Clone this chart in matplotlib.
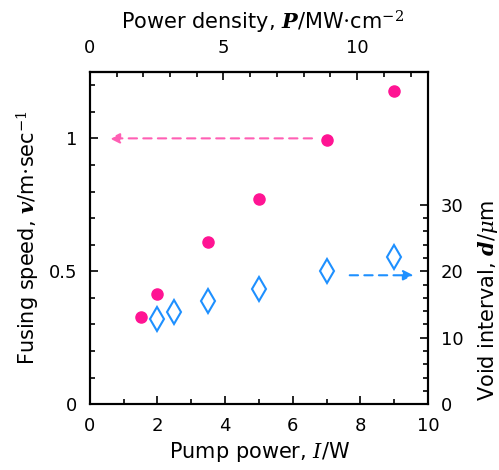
import numpy as np
import matplotlib.pyplot as plt
from matplotlib.ticker import MultipleLocator, FixedLocator

plt.rcParams['font.family'] = ['DejaVu Sans']
plt.rcParams['mathtext.fontset'] = 'dejavuserif'

# fusing speed (left axis)
power_v = [1.5, 2, 3.5, 5, 7, 9]
speed = [0.327, 0.414, 0.609, 0.771, 0.992, 1.18]

# void interval (right axis)
power_d = [2, 2.5, 3.5, 5, 7, 9]
interval = [12.8, 13.8, 15.5, 17.4, 20.1, 22.1]

density_per_watt = 1.266  # MW/cm^2 per W

pink = '#ff1493'
blue = '#1e90ff'

fig = plt.figure(figsize=(4.99, 4.70), dpi=100)
ax = fig.add_axes([0.180, 0.140, 0.678, 0.707])

ax.plot(power_v, speed, 'o', color=pink, markersize=8, zorder=3)
ax.set_xlim(0, 10)
ax.set_ylim(0, 1.25)
ax.xaxis.set_major_locator(MultipleLocator(2))
ax.xaxis.set_minor_locator(MultipleLocator(1))
ax.yaxis.set_major_locator(FixedLocator([0, 0.5, 1]))
ax.yaxis.set_minor_locator(MultipleLocator(0.1))
ax.set_yticklabels(['0', '0.5', '1'])

ax.annotate('', xy=(0.5, 1.0), xytext=(6.65, 1.0),
            arrowprops=dict(arrowstyle='-|>', color='#ff5fb4', lw=1.5,
                            linestyle=(0, (4, 3)), mutation_scale=15))

ax2 = ax.twinx()
ax2.plot(power_d, interval, 'd', markerfacecolor='white', markeredgecolor=blue,
         markeredgewidth=1.5, markersize=12, zorder=3)
ax2.set_ylim(0, 50)
ax2.yaxis.set_major_locator(FixedLocator([0, 10, 20, 30]))
ax2.yaxis.set_minor_locator(FixedLocator(np.arange(0, 31, 2)))
ax2.annotate('', xy=(9.65, 19.4), xytext=(7.6, 19.4),
             arrowprops=dict(arrowstyle='-|>', color=blue, lw=1.5,
                             linestyle=(0, (4, 3)), mutation_scale=15))

ax3 = ax.secondary_xaxis('top', functions=(lambda x: x * density_per_watt,
                                           lambda p: p / density_per_watt))
ax3.xaxis.set_major_locator(FixedLocator([0, 5, 10]))
ax3.xaxis.set_minor_locator(FixedLocator(np.arange(0, 13, 1)))

# axis titles
fig.text(0.521, 1 - 452 / 470, 'Pump power, $\\mathit{I}$/W', fontsize=15,
         ha='center', va='center')
fig.text(0.527, 1 - 22 / 470, 'Power density, $\\mathbfit{P}$/MW$\\cdot$cm$^{-2}$',
         fontsize=15, ha='center', va='center')
fig.text(28 / 499, 1 - 238 / 470, 'Fusing speed, $\\mathbfit{v}$/m$\\cdot$sec$^{-1}$',
         fontsize=15, rotation=90, ha='center', va='center')
fig.text(488 / 499, 1 - 300 / 470, 'Void interval, $\\mathbfit{d}$/$\\mu$m',
         fontsize=15, rotation=90, ha='center', va='center')

for a in (ax, ax2):
    for s in a.spines.values():
        s.set_linewidth(1.5)
for a in (ax, ax2, ax3):
    a.tick_params(which='both', direction='in', labelsize=13, width=1.2, pad=9)
    a.tick_params(which='major', length=6)
    a.tick_params(which='minor', length=3.5)
ax3.tick_params(which='both', pad=11)
ax3.spines['top'].set_linewidth(1.5)

fig.savefig('out.png', dpi=100)
